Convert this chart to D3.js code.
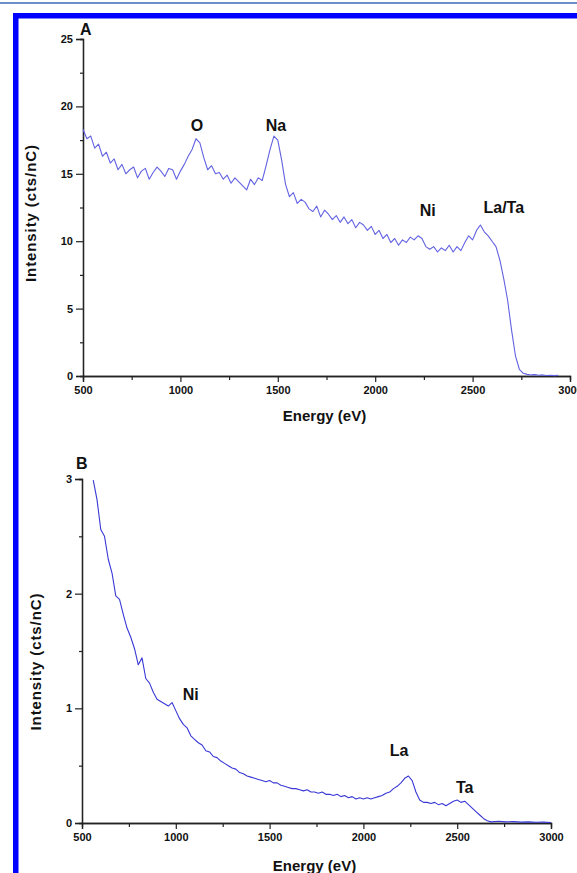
<!DOCTYPE html>
<html>
<head>
<meta charset="utf-8">
<script src="https://cdn.jsdelivr.net/npm/d3@7"></script>
<style>
  html, body { margin: 0; padding: 0; background: #fff; }
  svg { display: block; }
  text { font-family: "Liberation Sans", Arial, sans-serif; font-weight: bold; fill: #111; }
</style>
</head>
<body>
<svg id="chart" width="577" height="873"></svg>
<script>
// ---------- DATA ----------
const energyA = [500,520,540,560,580,600,620,640,660,680,700,720,740,760,780,800,820,840,860,880,
  900,920,940,960,980,1000,1020,1040,1060,1080,1100,1120,1140,1160,1180,1200,1220,1240,1260,1280,
  1300,1320,1340,1360,1380,1400,1420,1440,1460,1480,1500,1520,1540,1560,1580,1600,1620,1640,1660,1680,
  1700,1720,1740,1760,1780,1800,1820,1840,1860,1880,1900,1920,1940,1960,1980,2000,2020,2040,2060,2080,
  2100,2120,2140,2160,2180,2200,2220,2240,2260,2280,2300,2320,2340,2360,2380,2400,2420,2440,2460,2480,
  2500,2520,2540,2560,2580,2600,2620,2640,2660,2680,2700,2720,2740,2760,2780,2800,2820,2840,2860,2880,
  2900,2920,2940];
const intensityA = [
  18.3,17.6,17.8,16.9,17.2,16.3,16.6,15.8,16.1,15.3,15.7,15.0,15.3,15.5,14.7,15.2,15.4,14.6,15.1,15.5,
  15.2,14.8,15.4,15.3,14.6,15.2,15.7,16.3,16.8,17.6,17.3,16.2,15.3,15.6,15.0,15.1,14.6,14.9,14.3,14.7,
  14.4,14.1,13.8,14.6,14.2,14.7,14.5,15.6,16.8,17.8,17.5,16.0,14.2,13.3,13.6,12.8,13.1,12.9,12.4,12.2,
  12.6,11.8,12.3,12.0,11.6,11.9,11.4,11.8,11.3,11.6,11.0,11.4,11.2,10.8,11.1,10.5,10.8,10.2,10.5,9.9,
  10.2,9.7,10.1,9.9,10.3,10.1,10.4,10.2,9.6,9.4,9.6,9.2,9.5,9.3,9.7,9.2,9.6,9.3,9.9,10.4,
  10.1,10.8,11.2,10.7,10.4,10.0,9.6,8.6,7.2,5.6,3.4,1.5,0.5,0.2,0.12,0.08,0.1,0.05,0.08,0.04,
  0.06,0.03,0.05];

const energyB = [560,580,600,620,640,660,680,700,720,740,760,780,800,820,840,860,880,900,920,940,
  960,980,1000,1020,1040,1060,1080,1100,1120,1140,1160,1180,1200,1220,1240,1260,1280,1300,1320,1340,
  1360,1380,1400,1420,1440,1460,1480,1500,1520,1540,1560,1580,1600,1620,1640,1660,1680,1700,1720,1740,
  1760,1780,1800,1820,1840,1860,1880,1900,1920,1940,1960,1980,2000,2020,2040,2060,2080,2100,2120,2140,
  2160,2180,2200,2220,2240,2260,2280,2300,2320,2340,2360,2380,2400,2420,2440,2460,2480,2500,2520,2540,
  2560,2580,2600,2620,2640,2660,2680,2720,2760,2800,2840,2880,2920,2960,3000];
const intensityB = [
  2.99,2.82,2.56,2.50,2.30,2.18,1.98,1.95,1.82,1.70,1.62,1.52,1.38,1.44,1.26,1.22,1.14,1.08,1.06,1.04,
  1.02,1.05,0.98,0.91,0.86,0.83,0.76,0.73,0.70,0.68,0.63,0.62,0.58,0.57,0.54,0.52,0.50,0.48,0.47,0.44,
  0.43,0.41,0.40,0.39,0.38,0.37,0.36,0.37,0.35,0.35,0.33,0.32,0.31,0.30,0.30,0.29,0.28,0.29,0.27,0.27,
  0.26,0.27,0.25,0.25,0.24,0.25,0.23,0.24,0.22,0.23,0.21,0.22,0.21,0.22,0.21,0.22,0.23,0.24,0.26,0.27,
  0.30,0.32,0.35,0.39,0.41,0.37,0.27,0.20,0.18,0.18,0.17,0.18,0.16,0.17,0.15,0.17,0.19,0.20,0.18,0.19,
  0.16,0.13,0.10,0.07,0.04,0.02,0.01,0.015,0.01,0.012,0.008,0.01,0.006,0.008,0.005];

const xTicks = [500,1000,1500,2000,2500,3000];
const xMinor = [750,1250,1750,2250,2750];
const yTicksA = [0,5,10,15,20,25];
const yMinorA = [2.5,7.5,12.5,17.5,22.5];
const yTicksB = [0,1,2,3];
const yMinorB = [0.5,1.5,2.5];

const labelsA = [{t:"O", e:1085, v:18.2}, {t:"Na", e:1490, v:18.2}, {t:"Ni", e:2270, v:11.9}, {t:"La/Ta", e:2660, v:12.1}];
const labelsB = [{t:"Ni", e:1080, v:1.07}, {t:"La", e:2190, v:0.58}, {t:"Ta", e:2540, v:0.265}];

// ---------- DRAW ----------
const svg = d3.select("#chart");

// page decorations
svg.append("line").attr("x1",0).attr("x2",577).attr("y1",3).attr("y2",3)
  .attr("stroke","#6d8fc9").attr("stroke-width",2);
svg.append("rect").attr("x",15.75).attr("y",15.75).attr("width",700).attr("height",1000)
  .attr("fill","none").attr("stroke","#0000ff").attr("stroke-width",5.5);

function panel(cfg) {
  const x = d3.scaleLinear().domain([500,3000]).range(cfg.xr);
  const y = d3.scaleLinear().domain(cfg.yd).range(cfg.yr);
  const g = svg.append("g");

  const axisStyle = sel => {
    sel.selectAll("path.domain").attr("stroke","#222").attr("stroke-width",1.3);
    sel.selectAll(".tick line").attr("stroke","#222").attr("stroke-width",1.2);
    sel.selectAll(".tick text").style("font-size","11px").style("font-weight","bold")
      .style("font-family","'Liberation Sans', Arial, sans-serif").attr("fill","#111");
  };

  g.append("g").attr("transform",`translate(0,${cfg.yr[0]})`)
    .call(d3.axisBottom(x).tickValues(xMinor).tickSize(4).tickFormat(""))
    .call(axisStyle);
  g.append("g").attr("transform",`translate(0,${cfg.yr[0]})`)
    .call(d3.axisBottom(x).tickValues(xTicks).tickSize(6).tickPadding(cfg.xpad).tickFormat(d3.format("d")))
    .call(axisStyle);
  g.append("g").attr("transform",`translate(${cfg.xr[0]},0)`)
    .call(d3.axisLeft(y).tickValues(cfg.yMinor).tickSize(3).tickFormat(""))
    .call(axisStyle);
  g.append("g").attr("transform",`translate(${cfg.xr[0]},0)`)
    .call(d3.axisLeft(y).tickValues(cfg.yTicks).tickSize(7).tickPadding(3).tickFormat(d3.format("d")))
    .call(axisStyle);

  const line = d3.line().x((d,i)=>x(cfg.ex[i])).y(d=>y(d));
  g.append("path").datum(cfg.iv).attr("d",line)
    .attr("fill","none").attr("stroke",cfg.color).attr("stroke-width",1.1)
    .attr("stroke-linejoin","round");

  cfg.labels.forEach(l => {
    g.append("text").attr("x",x(l.e)).attr("y",y(l.v)).attr("text-anchor","middle")
      .style("font-size","16px").text(l.t);
  });

  g.append("text").attr("x",cfg.panelPos[0]).attr("y",cfg.panelPos[1])
    .style("font-size","16px").text(cfg.panel);

  g.append("text").attr("x",(cfg.xr[0]+cfg.xr[1])/2 - 2).attr("y",cfg.xtitleY)
    .attr("text-anchor","middle").style("font-size","15px").text("Energy (eV)");

  const yc = (cfg.yr[0]+cfg.yr[1])/2;
  g.append("text").attr("transform",`translate(${cfg.ytitleX},${yc+cfg.ytitleOff}) rotate(-90)`)
    .attr("text-anchor","middle").attr("dominant-baseline","central")
    .attr("textLength",137).attr("lengthAdjust","spacing")
    .style("font-size","15px").text("Intensity (cts/nC)");
}

panel({xr:[83,570], yr:[376,39], yd:[0,25], yTicks:yTicksA, yMinor:yMinorA,
  ex:energyA, iv:intensityA, color:"#6262e2", labels:labelsA,
  panel:"A", panelPos:[80,35], xtitleY:421, ytitleX:30, ytitleOff:6, xpad:4});

panel({xr:[82,551], yr:[823,479], yd:[0,3], yTicks:yTicksB, yMinor:yMinorB,
  ex:energyB, iv:intensityB, color:"#3838d6", labels:labelsB,
  panel:"B", panelPos:[76,469], xtitleY:871, ytitleX:35, ytitleOff:11, xpad:4});
</script>
</body>
</html>
